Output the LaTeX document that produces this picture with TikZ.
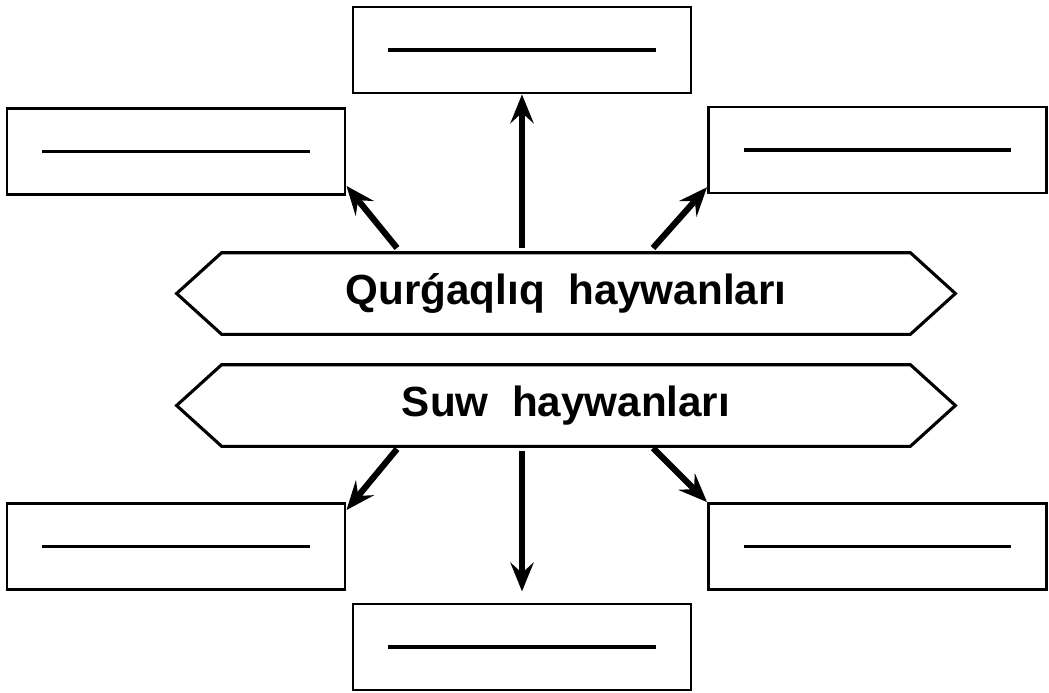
\documentclass[tikz,border=0pt]{standalone}
\usepackage{fontspec}
\setmainfont{Liberation Sans}
\usetikzlibrary{arrows.meta}
\begin{document}
\begin{tikzpicture}[x=0.025cm, y=-0.025cm,
    blank/.style={draw, line width=2pt, minimum width=8.45cm, minimum height=2.15cm, inner sep=0pt,
      path picture={\draw[line width=2.4pt] ([xshift=-3.34cm]path picture bounding box.center) -- ([xshift=3.34cm]path picture bounding box.center);}},
    banner/.style={minimum width=17.2cm, minimum height=2.025cm, inner sep=0pt, font=\fontsize{30}{36}\selectfont\bfseries},
    arr/.style={line width=4.4pt, -{Stealth[length=0.72cm, width=0.58cm, inset=0.26cm]}}]
  \useasboundingbox (0,0) rectangle (1049,692);
  % empty answer boxes
  \foreach \name/\x/\y in {top/522/50, ul/176/151.5, ur/877.5/150, ll/176/546.5, lr/877.5/546.5, bot/522/647}
    \node[blank] (\name) at (\x,\y) {};
  % the two banners
  \node[banner] (land) at (566,293.5) {Qurǵaqlıq\ \ haywanları};
  \node[banner] (water) at (566,405.5) {Suw\ \ haywanları};
  \foreach \b in {land, water}
    \draw[line width=2.2pt] (\b.north west) -- (\b.north east) -- ([xshift=1.125cm]\b.east)
      -- (\b.south east) -- (\b.south west) -- ([xshift=-1.125cm]\b.west) -- cycle;
  % arrow tails on the banners
  \coordinate (lt1) at (397,248);
  \coordinate (lt2) at (522,248);
  \coordinate (lt3) at (653,248);
  \coordinate (wt1) at (397,449);
  \coordinate (wt2) at (522,451);
  \coordinate (wt3) at (653,448);
  \draw[arr] (lt1) -- ([yshift=0.25cm]ul.south east);
  \draw[arr] (lt2) -- (top.south);
  \draw[arr] (lt3) -- ([yshift=0.18cm]ur.south west);
  \draw[arr] (wt1) -- ([yshift=-0.2cm]ll.north east);
  \draw[arr] (wt2) -- ([yshift=0.28cm]bot.north);
  \draw[arr] (wt3) -- (lr.north west);
\end{tikzpicture}
\end{document}
